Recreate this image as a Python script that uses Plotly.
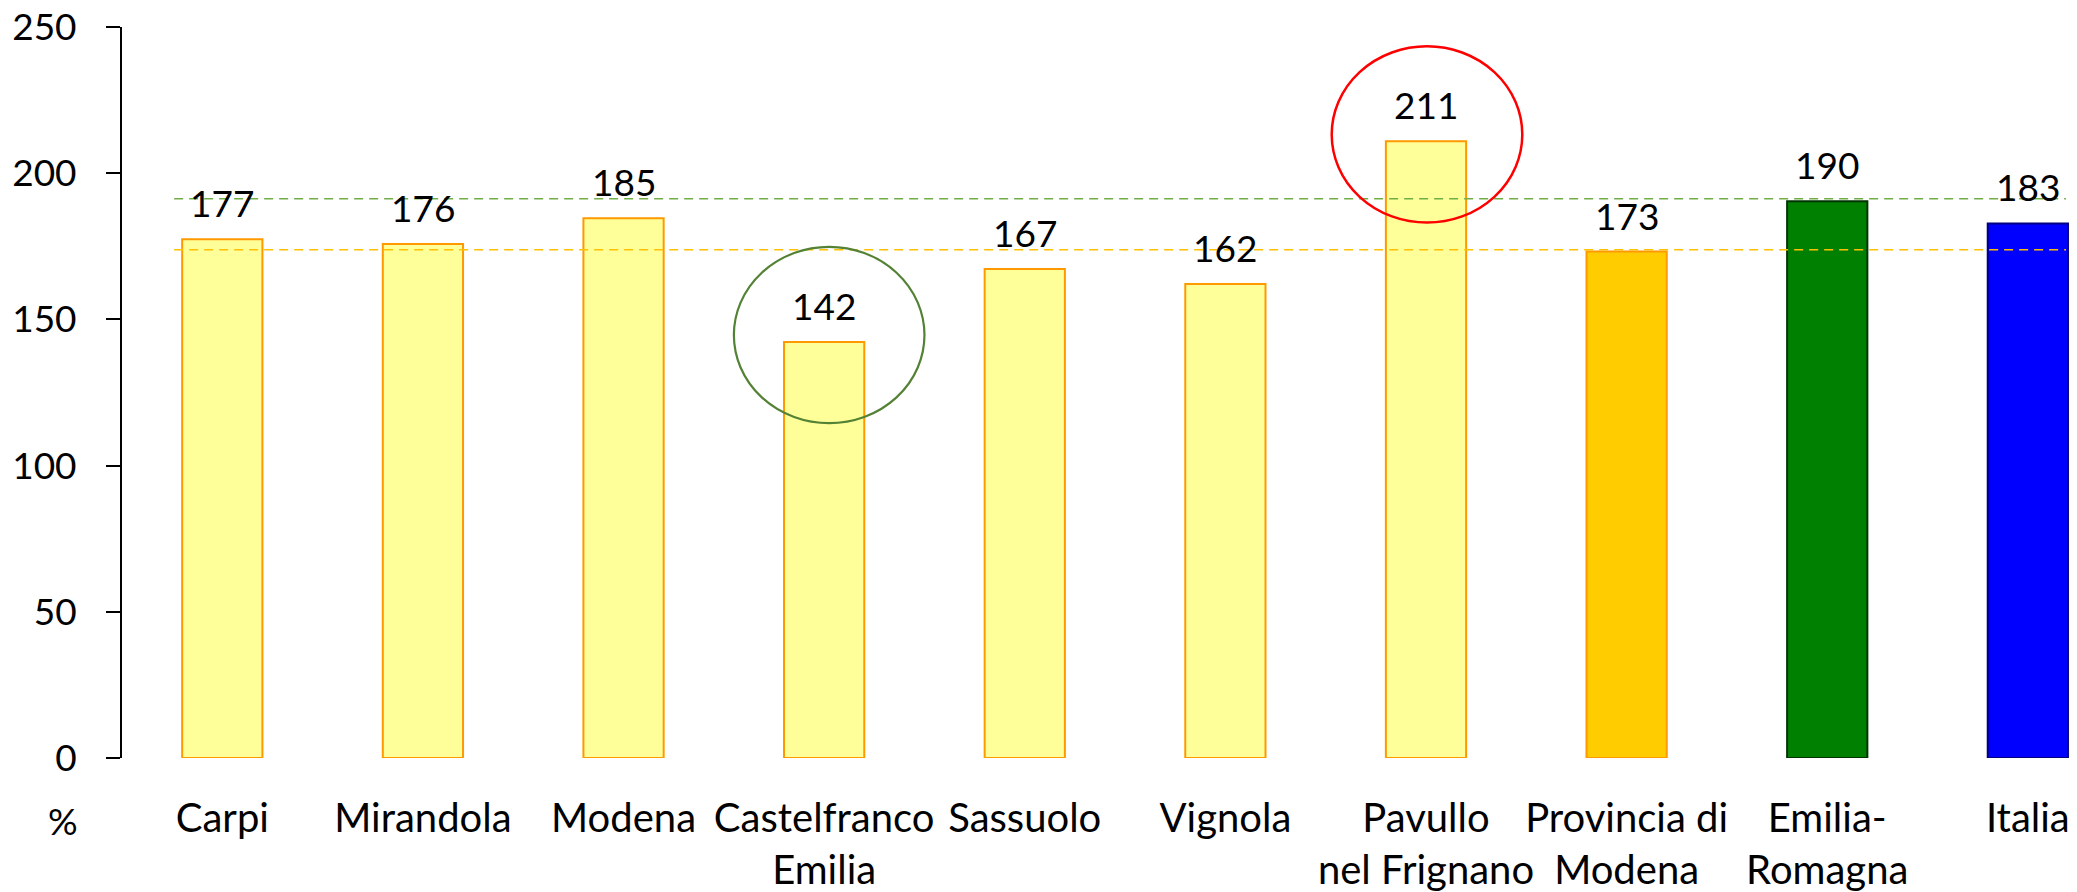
import plotly.graph_objects as go

categories = ["Carpi", "Mirandola", "Modena", "Castelfranco<br>Emilia", "Sassuolo",
              "Vignola", "Pavullo<br>nel Frignano", "Provincia di<br>Modena",
              "Emilia-<br>Romagna", "Italia"]
values = [177.4, 175.8, 184.6, 142.3, 167.2, 162.1, 210.9, 173.2, 190.4, 182.8]
fill_colors = ["#FFFF99"] * 7 + ["#FFCC00", "#008000", "#0000FF"]
line_colors = ["#FF9900"] * 8 + ["#003300", "#000080"]
ref_er = 191.3
ref_prov = 173.8
y_ticks = [0, 50, 100, 150, 200, 250]
unit_label = "%"

FONT = "Lato, Calibri, Carlito, sans-serif"
FS = 40      # category labels
FS_NUM = 37  # numbers (ticks, data labels)
x = list(range(len(categories)))

fig = go.Figure()
fig.add_trace(go.Bar(
    x=x, y=values, width=0.4,
    marker=dict(color=fill_colors, line=dict(color=line_colors, width=2)),
    hoverinfo="skip", showlegend=False,
))

annotations = []
for xi, v in zip(x, values):
    annotations.append(dict(x=xi, y=v, xref="x", yref="y", text=f"{v:.0f}",
                            showarrow=False, yanchor="bottom", yshift=12,
                            font=dict(family=FONT, size=FS_NUM, color="black")))
annotations.append(dict(x=-0.030, y=-0.086, xref="paper", yref="paper",
                        text=unit_label, showarrow=False, xanchor="center",
                        yanchor="middle", font=dict(family=FONT, size=FS_NUM, color="black")))

shapes = [
    dict(type="line", xref="x", yref="y", x0=-0.24, x1=9.19, y0=ref_er, y1=ref_er,
         line=dict(color="#70AD47", width=1.5, dash="9px,6px"), layer="above"),
    dict(type="line", xref="x", yref="y", x0=-0.24, x1=9.19, y0=ref_prov, y1=ref_prov,
         line=dict(color="#FFC000", width=1.5, dash="9px,6px"), layer="above"),
    dict(type="circle", xref="x", yref="y", x0=3 - 0.45, x1=3 + 0.50,
         y0=values[3] - 27.8, y1=values[3] + 32.5,
         line=dict(color="#548235", width=2.2)),
    dict(type="circle", xref="x", yref="y", x0=6 - 0.47, x1=6 + 0.48,
         y0=values[6] - 27.8, y1=values[6] + 32.5,
         line=dict(color="#FF0000", width=2.5)),
]

# the page body adds an 8px margin, so the figure is 8px smaller on each axis
fig.update_layout(
    width=2069, height=884,
    margin=dict(l=114, r=0, t=19, b=134, pad=0, autoexpand=False),
    paper_bgcolor="white", plot_bgcolor="white",
    font=dict(family=FONT, size=FS, color="black"),
    annotations=annotations, shapes=shapes,
    bargap=0.6,
)
fig.update_xaxes(
    range=[-0.5, 9.245], tickmode="array", tickvals=x, ticktext=categories,
    showline=False, showgrid=False, zeroline=False, ticks="", tickangle=0,
    ticklabelstandoff=33, automargin=False,
    tickfont=dict(family=FONT, size=FS, color="black"),
)
fig.update_yaxes(
    range=[0, 250], tickmode="array", tickvals=y_ticks,
    showline=True, linecolor="black", linewidth=2,
    ticks="outside", ticklen=14, tickwidth=2, tickcolor="black",
    showgrid=False, zeroline=False, ticklabelstandoff=22, automargin=False,
    ticklabeloverflow="allow",
    tickfont=dict(family=FONT, size=FS_NUM, color="black"),
)

fig.write_html("out.html")
